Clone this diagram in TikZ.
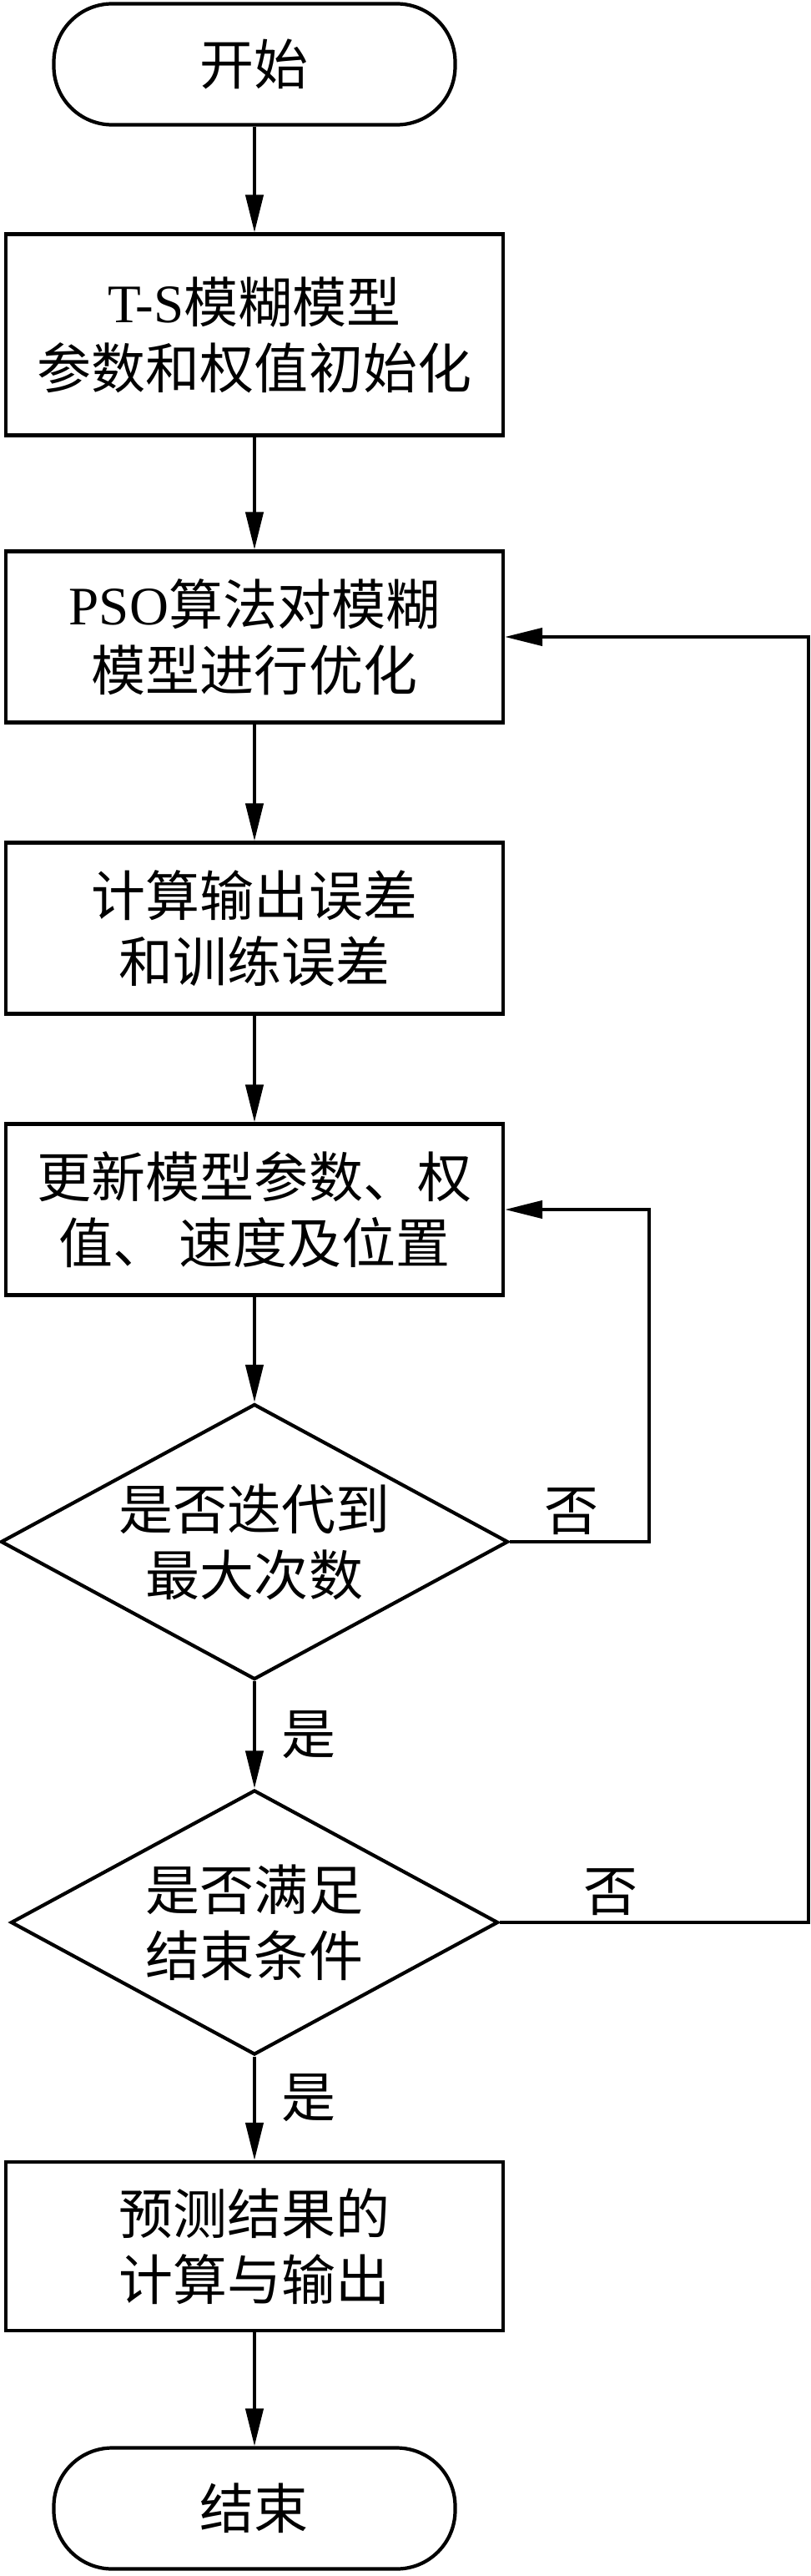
\documentclass[tikz,border=0pt]{standalone}
\usepackage{fontspec}
\setmainfont{Liberation Serif}
\newfontfamily\cjk{Noto Sans CJK SC}
\usetikzlibrary{shapes.geometric}
\usetikzlibrary{arrows.meta}
\usetikzlibrary{calc}

\begin{document}
\begin{tikzpicture}[line width=2.4pt]
      \tikzset{
        term/.style={draw, rectangle, rounded corners=1.4cm, minimum width=9.62cm, minimum height=2.9cm},
        proc/.style={draw, rectangle, minimum width=11.92cm, minimum height=4.1cm, align=center},
        decide/.style={draw, diamond, aspect=1.84, inner sep=0pt, align=center},
        line/.style={draw, -{Triangle[length=0.9cm, width=0.42cm]}},
        every node/.style={font=\cjk\fontsize{37}{45}\selectfont},
      }
      \useasboundingbox (-6.1,1.54) rectangle (13.34,-60.18);

      \node [term] (start) {开始};
      \node [proc, below of =start, node distance=6.48cm, minimum height=4.82cm] (init) {{\rmfamily T-S}模糊模型\\参数和权值初始化};
      \node [proc, below of =init, node distance=7.24cm] (pso) {{\rmfamily PSO}算法对模糊\\模型进行优化};
      \node [proc, below of =pso, node distance=6.98cm] (err) {计算输出误差\\和训练误差};
      \node [proc, below of =err, node distance=6.74cm] (upd) {更新模型参数、权\\值、\ 速度及位置};
      \node [decide, below of =upd, node distance=7.96cm, minimum width=12.16cm, minimum height=6.6cm] (iter) {是否迭代到\\最大次数};
      \node [decide, below of =iter, node distance=9.12cm, minimum width=11.68cm, minimum height=6.34cm] (cond) {是否满足\\结束条件};
      \node [proc, below of =cond, node distance=7.76cm, minimum height=4.04cm] (pred) {预测结果的\\计算与输出};
      \node [term, below of =pred, node distance=6.28cm] (finish) {结束};

      \coordinate (backin) at ($(upd.east)+(3.46,0)$);
      \coordinate (backout) at ($(pso.east)+(7.28,0)$);

      \path [line] (start)--(init);
      \path [line] (init)--(pso);
      \path [line] (pso)--(err);
      \path [line] (err)--(upd);
      \path [line] (upd)--(iter);
      \path [line] (iter)--node[right=0.5cm]{是} (cond);
      \path [line] (cond)--node[right=0.5cm, pos=0.4]{是} (pred);
      \path [line] (pred)--(finish);
      %loops back
      \path [line] (iter.east) -| node[above, pos=0.22]{否} (backin) -- (upd.east);
      \path [line] (cond.east) -| node[above, pos=0.18]{否} (backout) -- (pso.east);
\end{tikzpicture}
\end{document}
